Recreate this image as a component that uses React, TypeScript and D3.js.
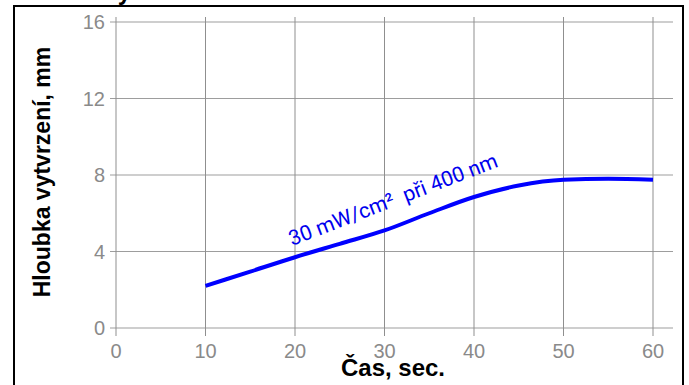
import React, { useEffect, useRef } from "react";
import * as d3 from "d3";

// curve
const times = [10, 15, 20, 25, 30, 35, 40, 45, 50, 55, 60];
const depths = [2.2, 2.95, 3.7, 4.4, 5.1, 6.0, 6.85, 7.45, 7.75, 7.8, 7.75];
const xTicks = [0, 10, 20, 30, 40, 50, 60];
const yTicks = [0, 4, 8, 12, 16];

const title = "Hloubka vytvrzení v závislosti na čase";
const xTitle = "Čas, sec.";
const yTitle = "Hloubka vytvrzení, mm";
const curveLabel = "30 mW/cm²  při 400 nm";

export default function App() {
  const ref = useRef<SVGSVGElement>(null);

  useEffect(() => {
    const width = 689;
    const height = 385;
    const svg = d3.select(ref.current).attr("width", width).attr("height", height);
    svg.selectAll("*").remove();

    const font = "Liberation Sans, Arial, sans-serif";

    svg.append("rect").attr("width", width).attr("height", height).attr("fill", "#fff");
    svg.append("rect")
      .attr("x", 14).attr("y", 6).attr("width", 669).attr("height", 390)
      .attr("fill", "#fff").attr("stroke", "#000").attr("stroke-width", 2);

    // title, cut off at the top of the picture
    svg.append("text")
      .attr("x", 3).attr("y", 0)
      .style("font-family", font).style("font-weight", "bold").style("font-size", "24px")
      .text(title);

    const x = d3.scaleLinear().domain([0, 60]).range([116, 653]);
    const y = d3.scaleLinear().domain([0, 16]).range([328, 22]);

    const grid = svg.append("g");
    grid.selectAll(".hgrid").data(yTicks).join("line").attr("class", "hgrid")
      .attr("x1", 110).attr("x2", 673)
      .attr("y1", d => y(d)).attr("y2", d => y(d))
      .attr("stroke", "#9d9d9d").attr("stroke-width", 1);
    grid.selectAll(".vgrid").data(xTicks).join("line").attr("class", "vgrid")
      .attr("x1", d => x(d)).attr("x2", d => x(d))
      .attr("y1", 17).attr("y2", 336)
      .attr("stroke", "#8f8f8f").attr("stroke-width", 1);

    svg.selectAll(".ylab").data(yTicks).join("text").attr("class", "ylab")
      .attr("x", 105).attr("y", d => y(d) + 7)
      .attr("text-anchor", "end")
      .attr("fill", "#8a8a8a")
      .style("font-family", font).style("font-size", "20px")
      .text(d => d);

    svg.selectAll(".xlab").data(xTicks).join("text").attr("class", "xlab")
      .attr("x", d => x(d)).attr("y", 358)
      .attr("text-anchor", "middle")
      .attr("fill", "#8a8a8a")
      .style("font-family", font).style("font-size", "20px")
      .text(d => d);

    svg.append("text")
      .attr("x", 393).attr("y", 376)
      .attr("text-anchor", "middle")
      .style("font-family", font).style("font-weight", "bold").style("font-size", "24px")
      .text(xTitle);

    svg.append("text")
      .attr("transform", "translate(50, 172) rotate(-90)")
      .attr("text-anchor", "middle")
      .style("font-family", font).style("font-weight", "bold").style("font-size", "23px")
      .text(yTitle);

    const line = d3.line<number>()
      .x((_, i) => x(times[i]))
      .y(d => y(d))
      .curve(d3.curveMonotoneX);

    svg.append("path")
      .datum(depths)
      .attr("d", line)
      .attr("fill", "none")
      .attr("stroke", "#0000ff")
      .attr("stroke-width", 4);

    svg.append("text")
      .attr("transform", "translate(292, 246) rotate(-21)")
      .attr("fill", "#0000ee")
      .style("font-family", "Roboto, sans-serif").style("font-size", "21px")
      .style("white-space", "pre")
      .text(curveLabel);
  }, []);

  return (
    <svg ref={ref} style={{ position: "fixed", left: 0, top: 0, display: "block" }}></svg>
  );
}
